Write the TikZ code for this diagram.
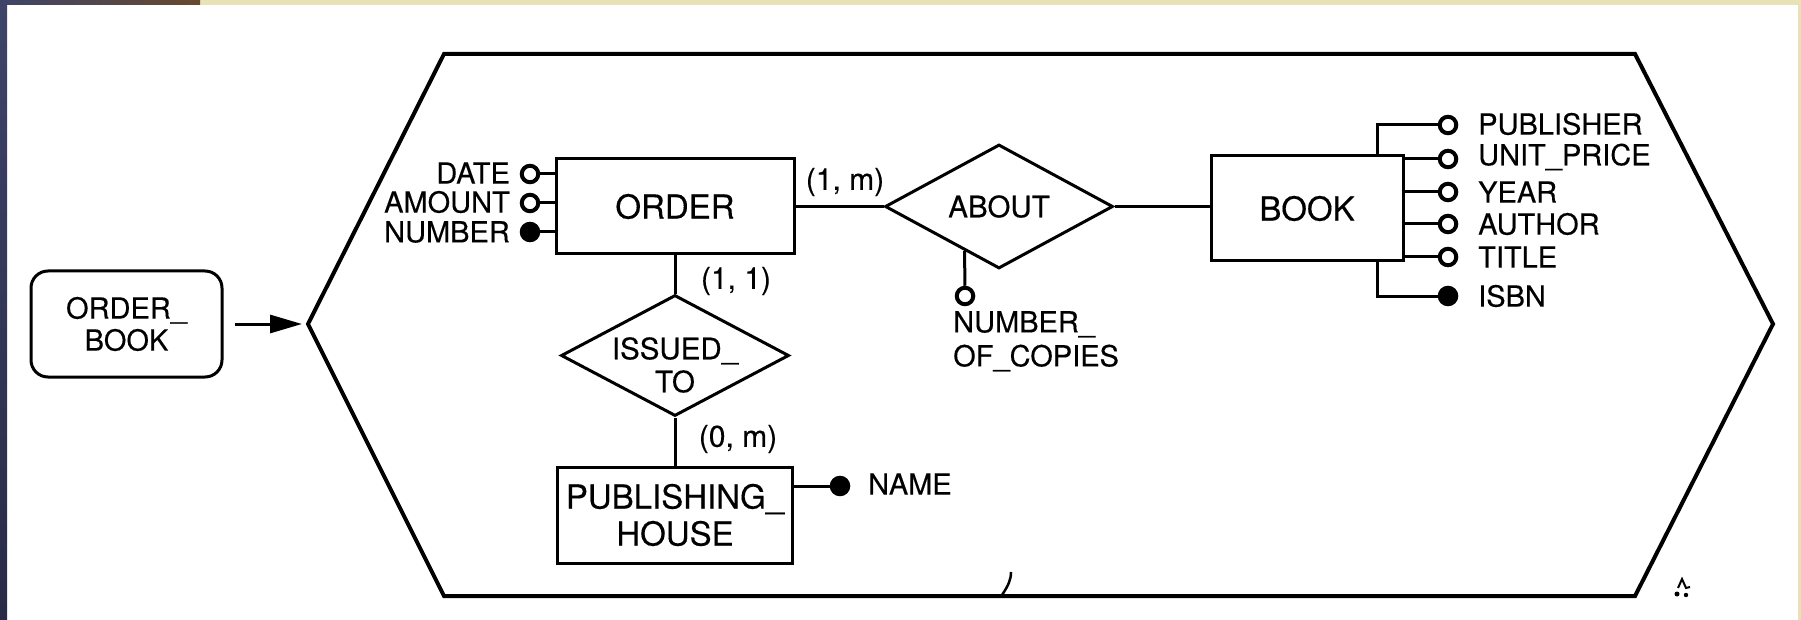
\documentclass[tikz,border=0pt]{standalone}
\usepackage{fontspec}
\setmainfont[FakeBold=0.3]{TeX Gyre Heros}
\usetikzlibrary{shapes.geometric, arrows.meta}
\definecolor{beige}{RGB}{232,226,182}
\definecolor{navyph}{RGB}{62,68,105}
\definecolor{brownph}{RGB}{105,72,45}
\definecolor{darkph}{RGB}{40,42,70}
\begin{document}
\begin{tikzpicture}[x=1pt,y=-1pt]
\tikzset{
  ent/.style={draw, line width=3pt, inner sep=0pt, align=center, font=\fontsize{33}{37}\selectfont},
  rel/.style={draw, diamond, line width=3pt, inner sep=0pt},
  reltext/.style={font=\fontsize{29.5}{33}\selectfont, align=center, inner sep=0pt},
  lab/.style={font=\fontsize{29}{34}\selectfont, inner sep=0pt, align=left},
  card/.style={font=\fontsize{30}{34}\selectfont, inner sep=0pt},
  attro/.style={circle, draw, line width=4pt, fill=white, minimum size=16.5pt, inner sep=0pt},
  attrf/.style={attro, fill=black},
  link/.style={line width=3pt},
  hexline/.style={line width=4pt, line join=miter},
}
% background and page edges
\fill[white] (0,0) rectangle (1801,620);
\useasboundingbox (0,0) rectangle (1801,620);
\fill[beige] (200,0) rectangle (1801,5);
\fill[beige] (1798,0) rectangle (1801,620);
\shade[left color=navyph, right color=brownph] (0,0) rectangle (200,5);
\shade[top color=navyph, middle color=brownph, bottom color=darkph] (0,0) rectangle (7,620);

% enclosing hexagon
\coordinate (hTL) at (444,54);
\coordinate (hTR) at (1635,54);
\coordinate (hR) at (1773,324);
\coordinate (hBR) at (1635,596);
\coordinate (hBL) at (444,596);
\coordinate (hL) at (308,324);
\draw[hexline] (hTL) -- (hTR) -- (hR) -- (hBR) -- (hBL) -- (hL) -- cycle;

% outside object
\node[ent, rounded corners=17pt, minimum width=191pt, minimum height=106pt,
      font=\fontsize{29}{32}\selectfont] (ob) at (126.5,324) {ORDER\_\\BOOK};
\draw[link, -{Triangle[length=32pt,width=18pt]}, shorten <=11pt, shorten >=6pt] (ob.east) -- (hL);

% entities
\node[ent, minimum width=238pt, minimum height=95pt] (order) at (675,206.5) {ORDER};
\node[ent, minimum width=192pt, minimum height=105pt] (book) at (1307,208.5) {BOOK};
\node[ent, minimum width=235pt, minimum height=96pt] (ph) at (675,515) {PUBLISHING\_\\HOUSE};

% relationships
\node[rel, minimum width=228pt, minimum height=124pt] (about) at (999,206.5) {};
\node[reltext] (aboutt) at (about.center) {ABOUT};
\node[rel, minimum width=228pt, minimum height=121pt] (iss) at (675,355.5) {};
\node[reltext] (isst) at (675,365) {ISSUED\_\\TO};

\draw[link] (order.east) -- (about.west);
\draw[link] (about.east) -- (about.east -| book.west);
\draw[link] (order.south) -- (iss.north);
\draw[link] (iss.south) -- (ph.north);

% cardinalities
\node[card] (c1m) at (845,182) {(1, m)};
\node[card] (c11) at (736,281) {(1, 1)};
\node[card] (c0m) at (738,439) {(0, m)};

% ORDER attributes
\node[attro] (date) at (530,174) {};
\node[attro] (amount) at (530,203) {};
\node[attrf] (number) at (530,232) {};
\draw[link] (date) -- (date -| order.west);
\draw[link] (amount) -- (amount -| order.west);
\draw[link] (number) -- (number -| order.west);
\node[lab, anchor=east] (datel) at (510,173) {DATE};
\node[lab, anchor=east] (amountl) at (510,202) {AMOUNT};
\node[lab, anchor=east] (numberl) at (510,232) {NUMBER};

% ABOUT attribute
\path (about.west) -- (about.south) coordinate[pos=0.702] (aboutleg);
\node[attro] (noc) at (965,296) {};
\draw[link] (noc) -- (aboutleg);
\node[lab, anchor=north west] (nocl) at (953,311) {NUMBER\_\\OF\_COPIES};

% PUBLISHING_HOUSE attribute
\node[attrf] (name) at (840,486) {};
\draw[link] (name) -- (name -| ph.east);
\node[lab, anchor=west] (namel) at (868,484) {NAME};

% BOOK attributes
\coordinate (bx) at (1377,0);
\node[attro] (pub) at (1448,125) {};
\node[attro] (up) at (1448,159) {};
\node[attro] (year) at (1448,192) {};
\node[attro] (auth) at (1448,224) {};
\node[attro] (title) at (1448,257) {};
\node[attrf] (isbn) at (1448,296) {};
\draw[link] (pub) -| (bx |- book.north);
\draw[link] (up) -- (up -| book.east);
\draw[link] (year) -- (year -| book.east);
\draw[link] (auth) -- (auth -| book.east);
\draw[link] (title) -- (title -| book.east);
\draw[link] (isbn) -| (bx |- book.south);
\node[lab, anchor=west] (publ) at (1478,124) {PUBLISHER};
\node[lab, anchor=west] (upl) at (1478,157) {UNIT\_PRICE};
\node[lab, anchor=west] (yearl) at (1478,192) {YEAR};
\node[lab, anchor=west] (authl) at (1478,224) {AUTHOR};
\node[lab, anchor=west] (titlel) at (1478,257) {TITLE};
\node[lab, anchor=west] (isbnl) at (1478,296) {ISBN};

% small stray marks of the scan
\draw[line width=2.5pt] (1002,595) .. controls (1008,586) and (1011,580) .. (1011,572);
\draw[line width=2pt] (1678,588) -- (1682,579) -- (1686,588) -- (1690,587);
\fill (1677,594) circle (2.5pt);
\fill (1686,595) circle (2.2pt);
\end{tikzpicture}
\end{document}
